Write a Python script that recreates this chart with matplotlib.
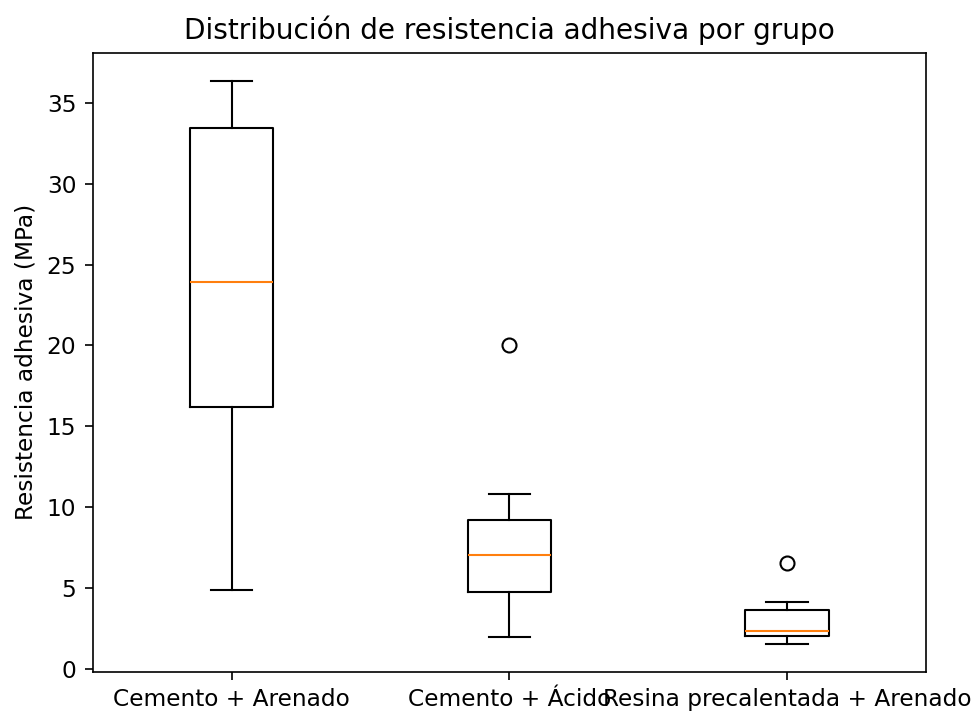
import matplotlib
matplotlib.use("Agg")
import matplotlib.pyplot as plt

groups = ["Cemento + Arenado", "Cemento + Ácido", "Resina precalentada + Arenado"]
q1 = [16.17, 4.79, 2.07]
medians = [23.95, 7.05, 2.38]
q3 = [33.45, 9.21, 3.66]
whisker_low = [4.90, 2.01, 1.56]
whisker_high = [36.35, 10.81, 4.17]
outliers = [[], [20.0], [6.57]]

s = 1.12
plt.rcParams.update({
    "font.size": 10 * s,
    "axes.titlesize": 12 * s,
    "axes.titlepad": 6 * s,
    "xtick.major.size": 3.5 * s,
    "ytick.major.size": 3.5 * s,
    "xtick.major.pad": 3.5 * s,
    "ytick.major.pad": 3.5 * s,
    "axes.labelpad": 4 * s,
})

stats = []
for i, g in enumerate(groups):
    stats.append(dict(label=g, med=medians[i], q1=q1[i], q3=q3[i],
                      whislo=whisker_low[i], whishi=whisker_high[i],
                      fliers=outliers[i]))

fig = plt.figure(figsize=(6.5, 715 / 150), dpi=150)
ax = fig.add_axes([92.7 / 975, (715 - 672) / 715, 833.3 / 975, (672 - 52.7) / 715])
ax.bxp(stats, flierprops=dict(markersize=6 * s))
ax.set_title("Distribución de resistencia adhesiva por grupo")
ax.set_ylabel("Resistencia adhesiva (MPa)")
fig.savefig("out.png", dpi=150)
